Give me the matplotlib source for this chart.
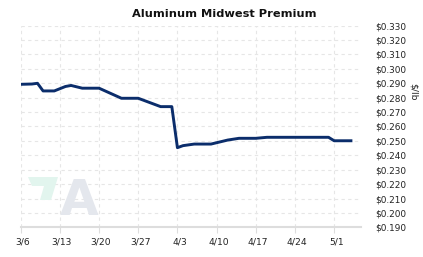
import datetime as dt
import matplotlib
matplotlib.use("Agg")
import matplotlib.pyplot as plt
import matplotlib.dates as mdates
import matplotlib.transforms as mtransforms
from matplotlib.patches import Polygon
from matplotlib.ticker import FixedLocator

# price per pound
dates = ["3/6", "3/8", "3/9", "3/10", "3/12", "3/14", "3/15", "3/17", "3/20",
         "3/24", "3/27", "3/31", "4/2", "4/3", "4/4", "4/6", "4/9", "4/12",
         "4/14", "4/17", "4/19", "4/30", "5/1", "5/4"]
prices = [0.2893, 0.2895, 0.2900, 0.2847, 0.2847, 0.2878, 0.2885, 0.2866, 0.2866,
          0.2796, 0.2796, 0.2738, 0.2738, 0.2453, 0.2467, 0.2478, 0.2478, 0.2506,
          0.2518, 0.2518, 0.2525, 0.2525, 0.2501, 0.2501]
tick_labels = ["3/6", "3/13", "3/20", "3/27", "4/3", "4/10", "4/17", "4/24", "5/1"]
y_ticks = [0.19 + 0.01 * i for i in range(15)]

YEAR = 2023


def to_date(s):
    m, d = s.split("/")
    return dt.datetime(YEAR, int(m), int(d))


x = [to_date(s) for s in dates]
xt = [mdates.date2num(to_date(s)) for s in tick_labels]

fig = plt.figure(figsize=(4.23, 2.57), dpi=100)
ax = fig.add_axes([20.7 / 423, 29.7 / 257, (361 - 20.7) / 423, (227.3 - 25.7) / 257])

ax.plot(x, prices, color="#0b2d6b", lw=2.1, solid_joinstyle="round", zorder=5)

ax.set_xlim(mdates.date2num(to_date("3/6")), mdates.date2num(to_date("5/5")) + 0.8)
ax.set_ylim(0.19, 0.33)

ax.xaxis.set_major_locator(FixedLocator(xt))
ax.set_xticklabels(tick_labels)
ax.set_yticks(y_ticks)
ax.set_yticklabels([f"${v:.3f}" for v in y_ticks])

ax.yaxis.tick_right()
ax.tick_params(axis="y", length=0, pad=10, labelsize=6.4, colors="#222222")
ax.tick_params(axis="x", length=4, width=0.8, color="#dddddd", pad=3, labelsize=6.6,
               labelcolor="#222222")
for lab in ax.get_yticklabels():
    lab.set_horizontalalignment("left")
shift = mtransforms.ScaledTranslation(2 / 100, 0, fig.dpi_scale_trans)
for lab in ax.get_xticklabels():
    lab.set_transform(lab.get_transform() + shift)

ax.grid(True, color="#e6e6e6", ls=(0, (3, 3)), lw=0.8)
ax.set_axisbelow(True)
for side in ["top", "right", "left"]:
    ax.spines[side].set_visible(False)
ax.spines["bottom"].set_color("#dddddd")
ax.spines["bottom"].set_linewidth(1.5)

# faint logo watermark, lower left
def px(xp, yp):
    return ((xp - 20.7) / (361 - 20.7), (227.3 - yp) / (227.3 - 25.7))

green = Polygon([px(28, 177), px(58, 177), px(51, 200), px(40, 200), px(44, 186), px(32, 186)],
                closed=True, transform=ax.transAxes, facecolor="#e2f5ee", edgecolor="none", zorder=1)
ax.add_patch(green)
ax.text(*px(79, 215), "A", transform=ax.transAxes, fontsize=36, fontweight="bold",
        color="#e4e7ed", ha="center", va="baseline", zorder=1, family="DejaVu Sans")

fig.text(224 / 423, 1 - 14 / 257, "Aluminum Midwest Premium", ha="center", va="center",
         fontsize=8.2, fontweight="bold", color="#111111")
fig.text(413 / 423, 1 - 92 / 257, "$/lb", ha="center", va="center", rotation=270,
         fontsize=6.6, color="#222222")

fig.savefig("out.png", dpi=100, facecolor="white")
